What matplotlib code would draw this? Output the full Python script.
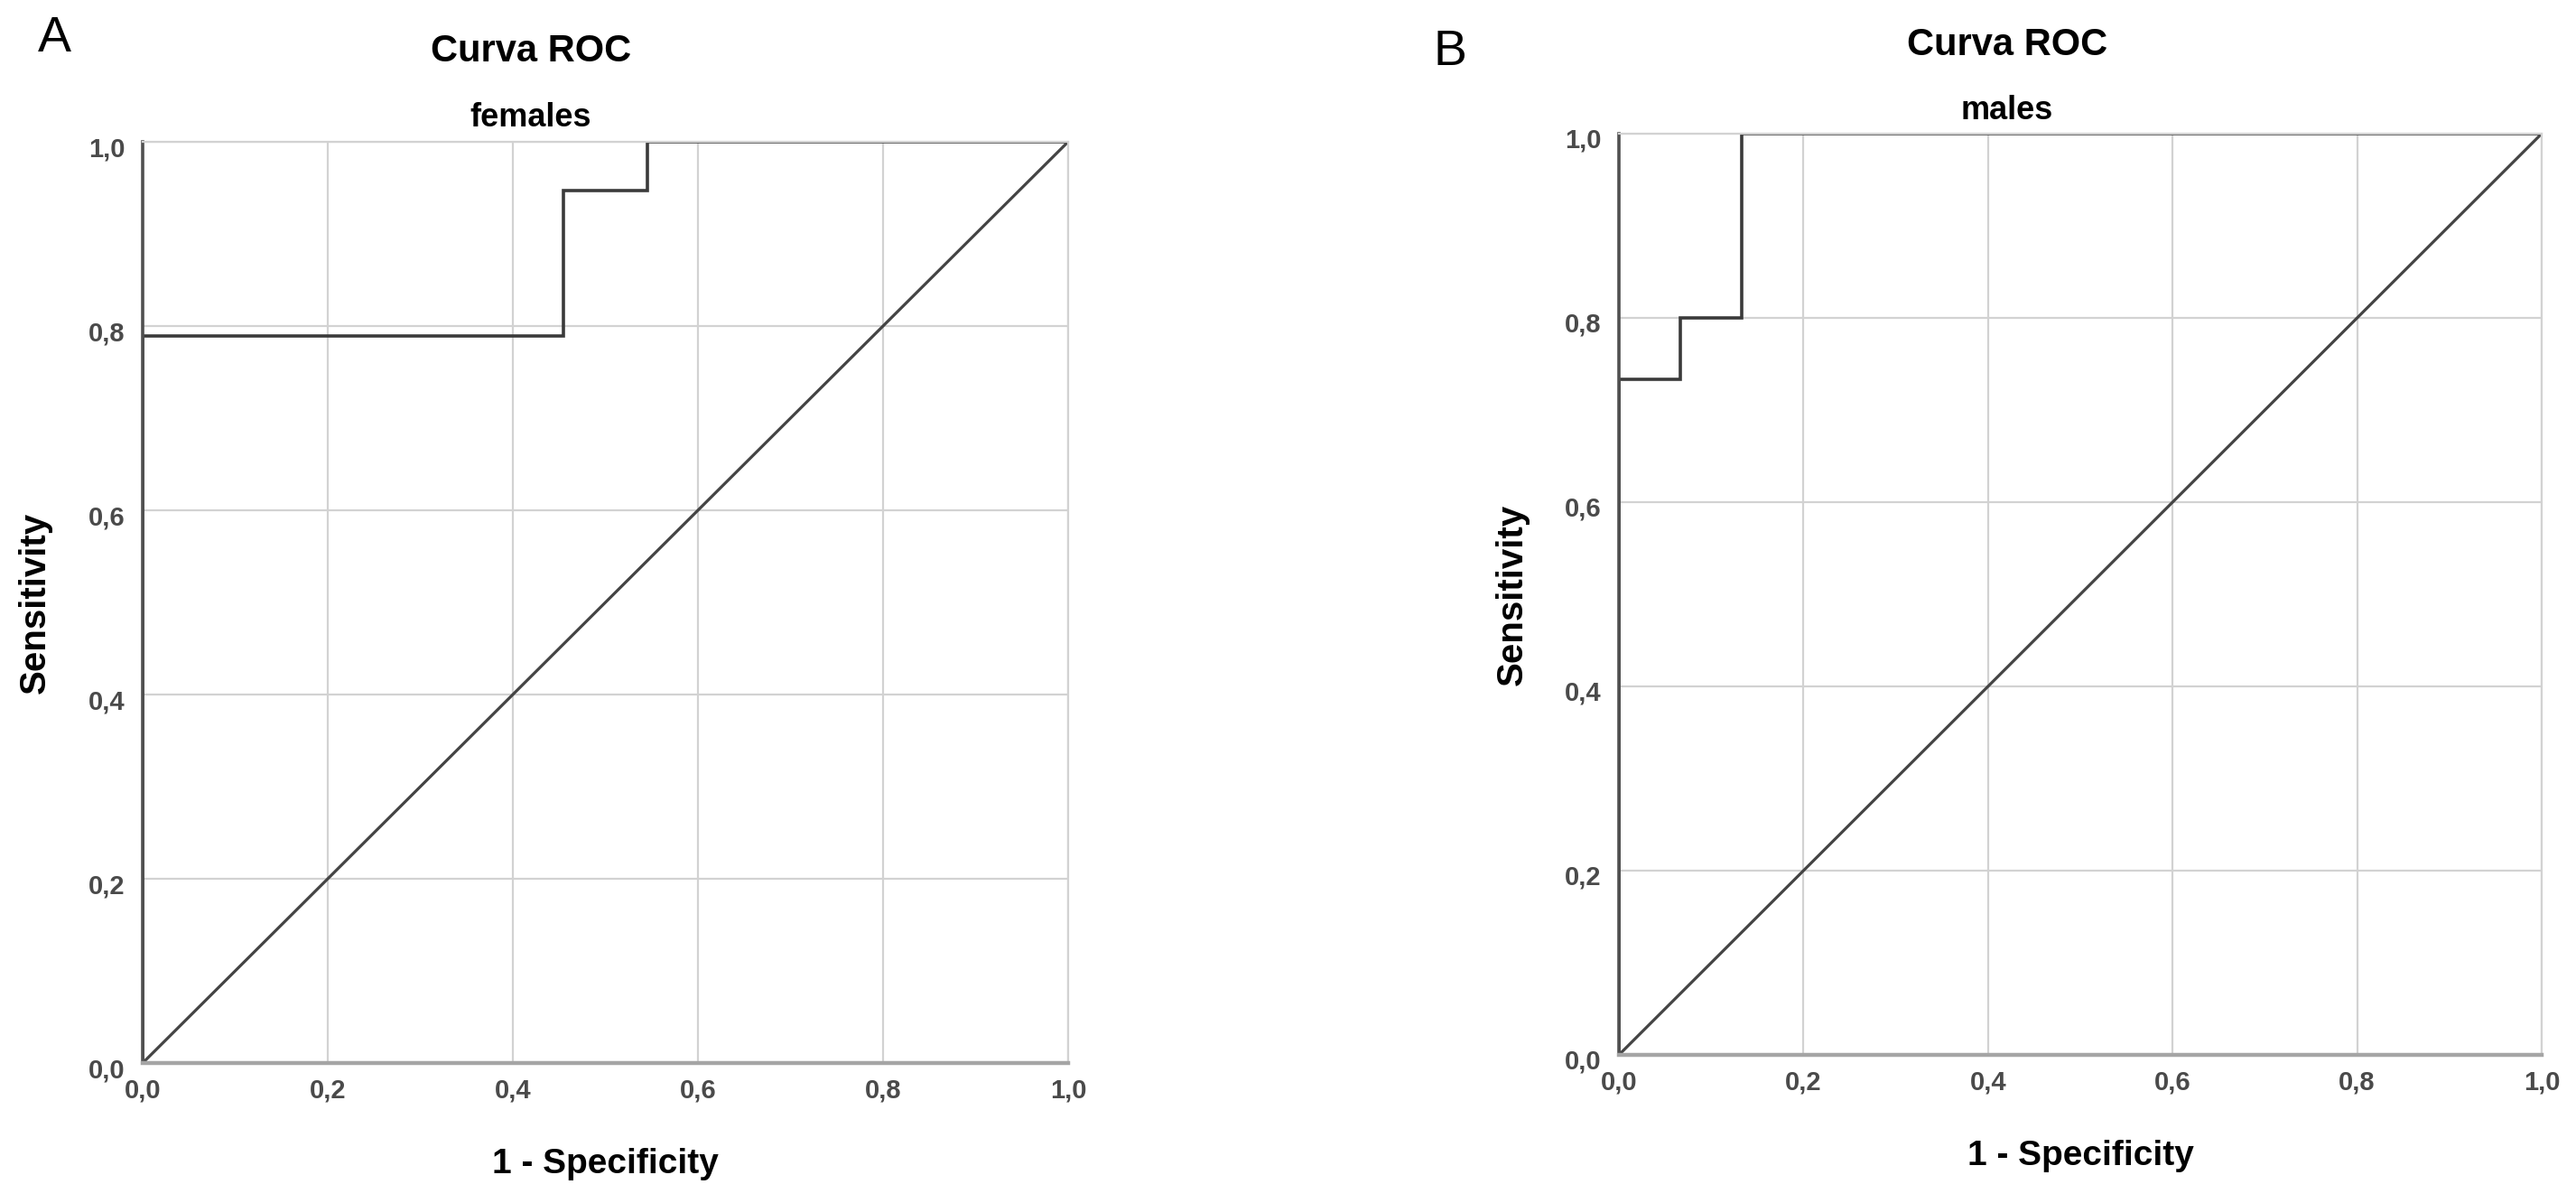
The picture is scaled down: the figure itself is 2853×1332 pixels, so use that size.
import matplotlib
matplotlib.use("Agg")
import matplotlib.pyplot as plt
from matplotlib.ticker import FixedLocator, FixedFormatter
from matplotlib.transforms import ScaledTranslation

plt.rcParams["font.family"] = ["Liberation Sans", "DejaVu Sans"]

# pontos da curva ROC (1 - especificidade, sensibilidade)
fpr_females = [0.0, 0.0, 0.4545, 0.4545, 0.5455, 0.5455, 1.0]
tpr_females = [0.0, 0.789, 0.789, 0.947, 0.947, 1.0, 1.0]

fpr_males = [0.0, 0.0, 0.0667, 0.0667, 0.1333, 0.1333, 1.0]
tpr_males = [0.0, 0.733, 0.733, 0.8, 0.8, 1.0, 1.0]

diagonal = [0.0, 1.0]

ticks = [0.0, 0.2, 0.4, 0.6, 0.8, 1.0]
tick_labels = ["0,0", "0,2", "0,4", "0,6", "0,8", "1,0"]

W, H = 2853, 1332
fig = plt.figure(figsize=(W / 100, H / 100), dpi=100)


def fx(x):
    return x / W


def fy(y):
    return 1 - y / H


def painel(rect, fpr, tpr, subtitulo, letra, letra_xy, titulo_x, titulo_y, sub_y):
    ax = fig.add_axes(rect)
    ax.plot(diagonal, diagonal, color="#444444", lw=2.3, solid_capstyle="butt")
    ax.plot(fpr, tpr, color="#3a3a3a", lw=2.6, solid_joinstyle="miter")
    ax.set_xlim(0, 1)
    ax.set_ylim(0, 1)
    for eixo in (ax.xaxis, ax.yaxis):
        eixo.set_major_locator(FixedLocator(ticks))
        eixo.set_major_formatter(FixedFormatter(tick_labels))
    ax.grid(True, color="#d2d2d2", lw=1.6)
    ax.set_axisbelow(True)
    ax.tick_params(length=0, labelsize=21, labelcolor="#4a4a4a")
    ax.tick_params(axis="y", pad=14)
    ax.tick_params(axis="x", pad=12)
    for lbl in ax.get_xticklabels() + ax.get_yticklabels():
        lbl.set_fontweight("bold")
    desloc = ScaledTranslation(0, -5 / 100, fig.dpi_scale_trans)
    for lbl in ax.get_yticklabels():
        lbl.set_transform(lbl.get_transform() + desloc)
    ax.spines["top"].set_color("#d2d2d2")
    ax.spines["right"].set_color("#d2d2d2")
    ax.spines["top"].set_linewidth(1.6)
    ax.spines["right"].set_linewidth(1.6)
    ax.spines["bottom"].set_color("#a5a5a5")
    ax.spines["bottom"].set_linewidth(3.2)
    ax.spines["left"].set_color("#505050")
    ax.spines["left"].set_linewidth(2.6)
    ax.set_xlabel("1 - Specificity", fontsize=28, fontweight="bold")
    ax.set_ylabel("Sensitivity", fontsize=29, fontweight="bold")
    ax.xaxis.set_label_coords(0.5, -0.11)
    ax.yaxis.set_label_coords(-0.116, 0.5)
    ax.xaxis.label.set_va("center")
    ax.yaxis.label.set_va("center")
    fig.text(fx(titulo_x), fy(titulo_y), "Curva ROC", fontsize=30, fontweight="bold",
             ha="center", va="center")
    fig.text(fx(titulo_x), fy(sub_y), subtitulo, fontsize=26, fontweight="bold",
             ha="center", va="center")
    fig.text(fx(letra_xy[0]), fy(letra_xy[1]), letra, fontsize=40,
             ha="center", va="center")
    return ax


painel([158 / W, 1 - 1177 / H, 1025 / W, 1020 / H], fpr_females, tpr_females,
       "females", "A", (60, 43), 588, 57, 130)
painel([1793 / W, 1 - 1168 / H, 1022 / W, 1020 / H], fpr_males, tpr_males,
       "males", "B", (1606, 58), 2223, 50, 122)

fig.savefig("out.png", dpi=100, facecolor="white")
plt.close(fig)
